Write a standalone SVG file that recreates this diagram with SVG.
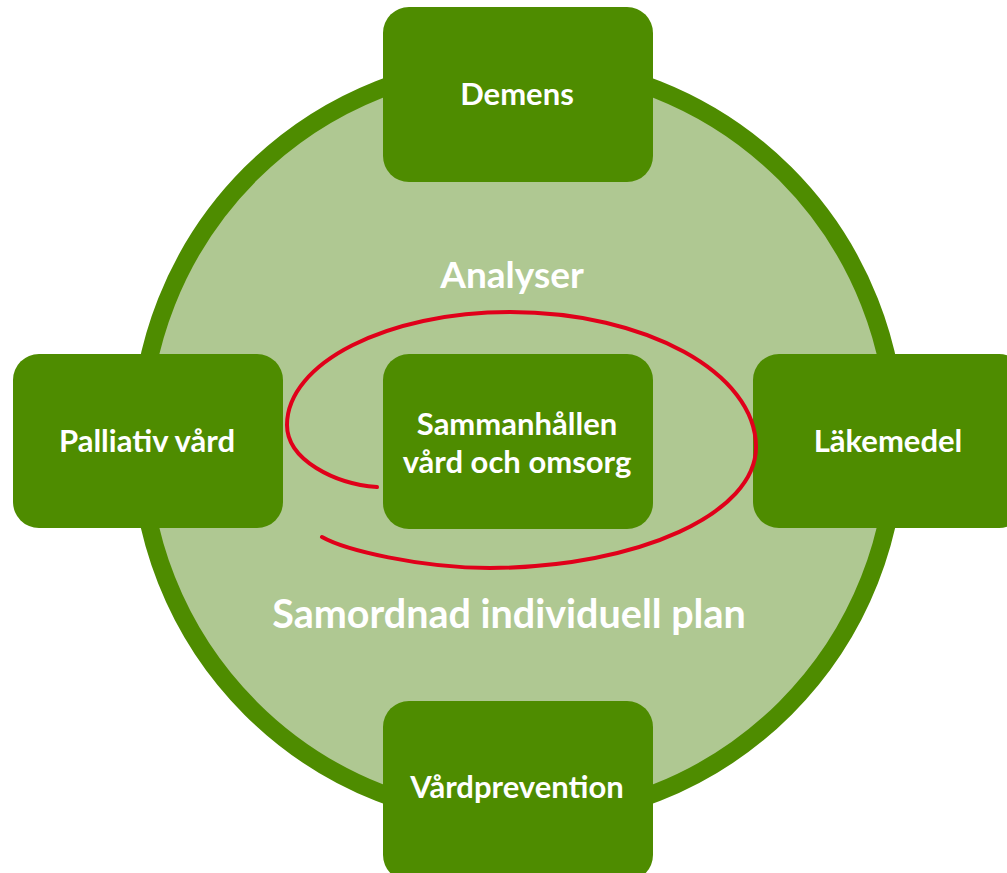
<svg xmlns="http://www.w3.org/2000/svg" width="1007" height="873" viewBox="0 0 1007 873">
<style>
.box{fill:#4e8c00;}
.lbl{fill:#ffffff;font-family:Lato,"Open Sans","Liberation Sans",sans-serif;font-weight:bold;font-size:31px;text-anchor:middle;}
.big{fill:#ffffff;font-family:Lato,"Open Sans","Liberation Sans",sans-serif;font-weight:bold;text-anchor:middle;}
</style>
<rect width="1007" height="873" fill="#ffffff"/>
<g id="ring">
<circle cx="518" cy="441" r="378" fill="#afc892" stroke="#4e8c00" stroke-width="18"/>
<text class="big" x="512" y="288" font-size="37">Analyser</text>
<text class="big" x="509" y="628" font-size="39.5">Samordnad individuell plan</text>
</g>
<g id="connectors"></g>
<g id="demens">
<rect class="box" x="383" y="7" width="270" height="175" rx="26"/>
<text class="lbl" x="517" y="105">Demens</text>
</g>
<g id="palliativ">
<rect class="box" x="13" y="354" width="270" height="174" rx="26"/>
<text class="lbl" x="147" y="452">Palliativ vård</text>
</g>
<g id="lakemedel">
<rect class="box" x="753" y="354" width="272" height="174" rx="26"/>
<text class="lbl" x="888" y="452">Läkemedel</text>
</g>
<g id="vardprevention">
<rect class="box" x="383" y="701" width="270" height="180" rx="26"/>
<text class="lbl" x="517" y="798">Vårdprevention</text>
</g>
<g id="sammanhallen">
<rect class="box" x="383" y="354" width="270" height="175" rx="26"/>
<text class="lbl" x="517" y="435">Sammanhållen</text>
<text class="lbl" x="517" y="473">vård och omsorg</text>
</g>
<g id="red-mark">
<path d="M377,487 C335,484 287,460 287,425 C287,363 387,312 510,312 C646,312 756,373 756,447 C756,513 640,567 490,568 C420,568 345,550 322,537" fill="none" stroke="#e0001a" stroke-width="4" stroke-linecap="round"/>
</g>
</svg>
